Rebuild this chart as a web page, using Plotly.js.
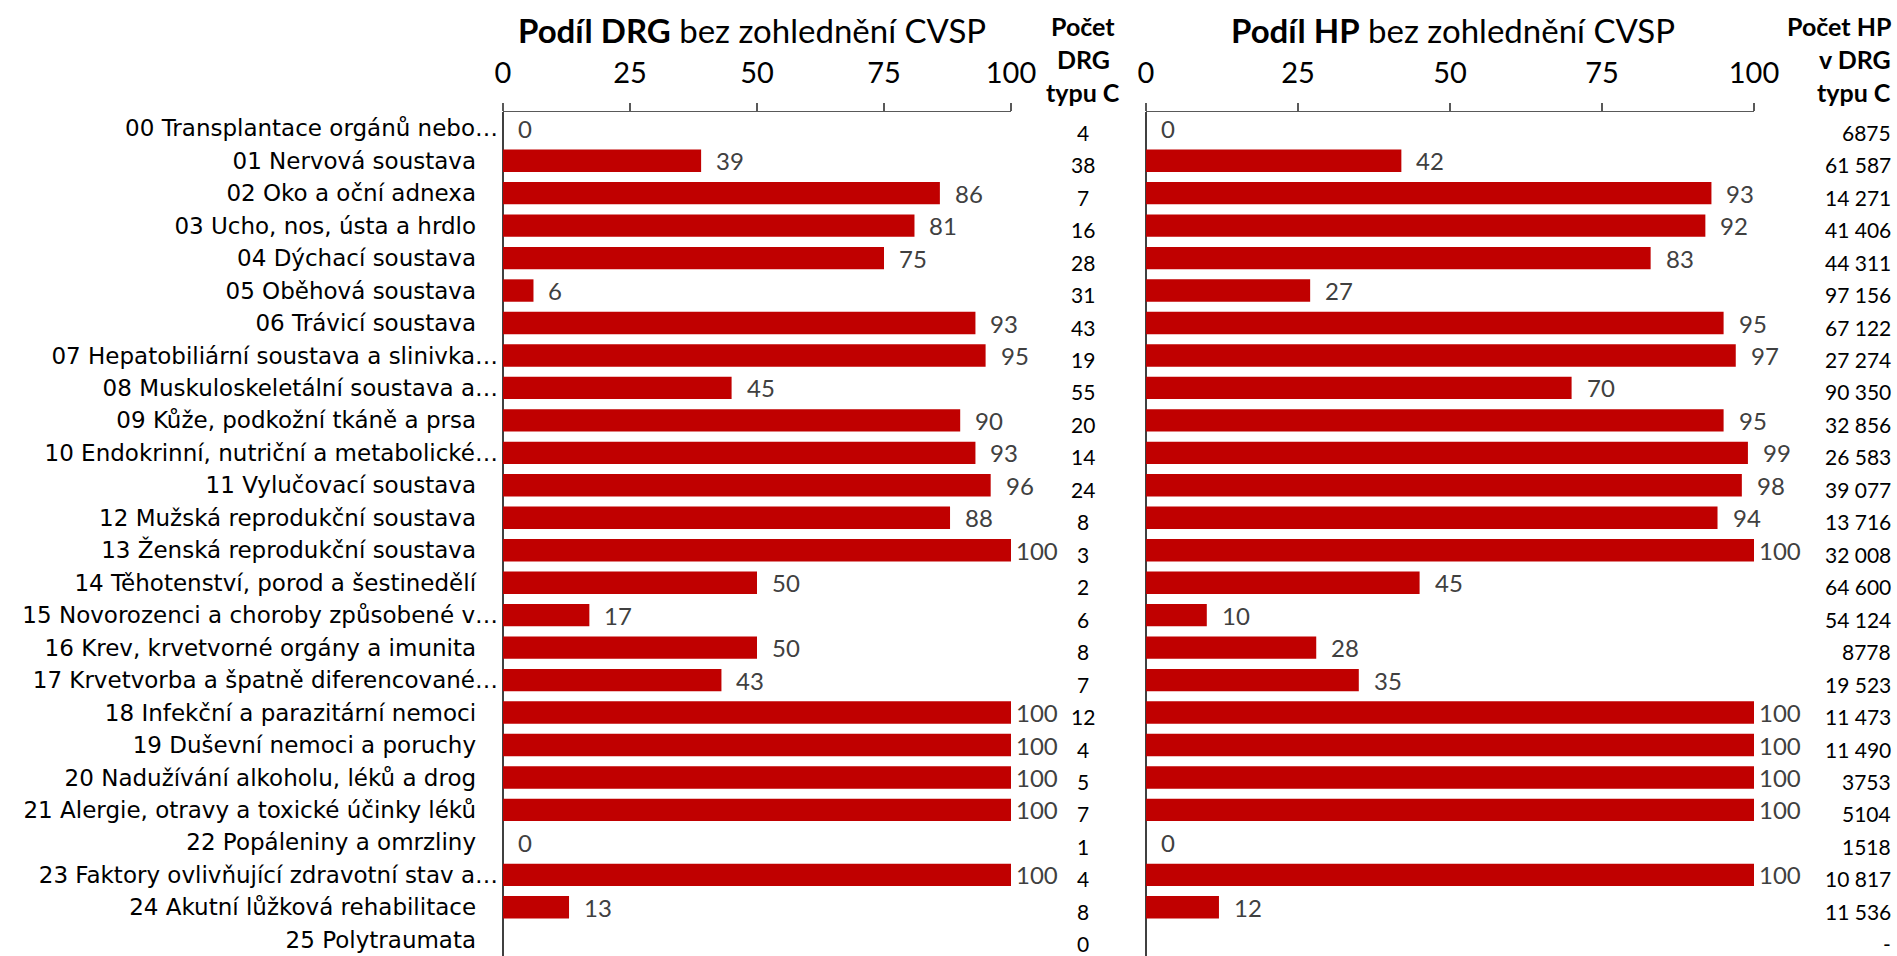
<!DOCTYPE html>
<html>
<head>
<meta charset="utf-8">
<script src="https://cdn.plot.ly/plotly-3.0.1.min.js"></script>
<style>
  html, body { margin: 0; padding: 0; background: #fff; }
  #chart { width: 1897px; height: 956px; }
</style>
</head>
<body>
<div id="chart"></div>
<script>
const categories = [
  "00 Transplantace orgánů nebo…",
  "01 Nervová soustava",
  "02 Oko a oční adnexa",
  "03 Ucho, nos, ústa a hrdlo",
  "04 Dýchací soustava",
  "05 Oběhová soustava",
  "06 Trávicí soustava",
  "07 Hepatobiliární soustava a slinivka…",
  "08 Muskuloskeletální soustava a…",
  "09 Kůže, podkožní tkáně a prsa",
  "10 Endokrinní, nutriční a metabolické…",
  "11 Vylučovací soustava",
  "12 Mužská reprodukční soustava",
  "13 Ženská reprodukční soustava",
  "14 Těhotenství, porod a šestinedělí",
  "15 Novorozenci a choroby způsobené v…",
  "16 Krev, krvetvorné orgány a imunita",
  "17 Krvetvorba a špatně diferencované…",
  "18 Infekční a parazitární nemoci",
  "19 Duševní nemoci a poruchy",
  "20 Nadužívání alkoholu, léků a drog",
  "21 Alergie, otravy a toxické účinky léků",
  "22 Popáleniny a omrzliny",
  "23 Faktory ovlivňující zdravotní stav a…",
  "24 Akutní lůžková rehabilitace",
  "25 Polytraumata"
];
const drgShare = [0, 39, 86, 81, 75, 6, 93, 95, 45, 90, 93, 96, 88, 100, 50, 17, 50, 43, 100, 100, 100, 100, 0, 100, 13, null];
const hpShare  = [0, 42, 93, 92, 83, 27, 95, 97, 70, 95, 99, 98, 94, 100, 45, 10, 28, 35, 100, 100, 100, 100, 0, 100, 12, null];
const drgCount = ["4", "38", "7", "16", "28", "31", "43", "19", "55", "20", "14", "24", "8", "3", "2", "6", "8", "7", "12", "4", "5", "7", "1", "4", "8", "0"];
const hpCount  = ["6875", "61 587", "14 271", "41 406", "44 311", "97 156", "67 122", "27 274", "90 350", "32 856", "26 583", "39 077", "13 716", "32 008", "64 600", "54 124", "8778", "19 523", "11 473", "11 490", "3753", "5104", "1518", "10 817", "11 536", "-"];
const ticks = [0, 25, 50, 75, 100];
const leftTitle = "<b>Podíl DRG</b> bez zohlednění CVSP";
const rightTitle = "<b>Podíl HP</b> bez zohlednění CVSP";
const leftHeader = ["Počet", "DRG", "typu C"];
const rightHeader = ["Počet HP", "v DRG", "typu C"];

const BAR = "#C00000";
const W = 1897, H = 956;
const L = 503, R = 1754, T = 112;
const PW = R - L, PH = H - T;
const px = v => (v - L) / PW;
const py = v => (H - v) / PH;

const tickText = categories.map(c => c.endsWith("…") ? c : c + "\u00A0\u00A0\u00A0");

const traces = [
  { type: "bar", orientation: "h", x: drgShare, y: categories, xaxis: "x", yaxis: "y",
    marker: { color: BAR }, hoverinfo: "x+y" },
  { type: "bar", orientation: "h", x: hpShare, y: categories, xaxis: "x2", yaxis: "y",
    marker: { color: BAR }, hoverinfo: "x+y" }
];

const annotations = [];
function addLabels(vals, xref) {
  vals.forEach((v, i) => {
    if (v === null) return;
    annotations.push({ x: v, y: categories[i], xref: xref, yref: "y", text: String(v),
      showarrow: false, xanchor: "left", yanchor: "middle", xshift: v >= 100 ? 3 : 13,
      font: { family: "Lato", size: 24, color: "#404040" } });
  });
}
addLabels(drgShare, "x");
addLabels(hpShare, "x2");

drgCount.forEach((t, i) => annotations.push({ x: px(1083), y: categories[i], xref: "paper", yref: "y",
  text: t, showarrow: false, xanchor: "center", yanchor: "middle", yshift: -4,
  font: { family: "Lato", size: 21, color: "#000" } }));
hpCount.forEach((t, i) => annotations.push({ x: px(1893), y: categories[i], xref: "paper", yref: "y",
  text: t, showarrow: false, xanchor: "right", yanchor: "middle", yshift: -4,
  font: { family: "Lato", size: 21, color: "#000" } }));

const headerY = [26, 59, 92];
leftHeader.forEach((t, i) => annotations.push({ x: px(1083), y: py(headerY[i]), xref: "paper", yref: "paper",
  text: "<b>" + t + "</b>", showarrow: false, xanchor: "center", yanchor: "middle",
  font: { family: "Lato", size: 25, color: "#000" } }));
rightHeader.forEach((t, i) => annotations.push({ x: px(1893), y: py(headerY[i]), xref: "paper", yref: "paper",
  text: "<b>" + t + "</b>", showarrow: false, xanchor: "right", yanchor: "middle",
  font: { family: "Lato", size: 25, color: "#000" } }));

annotations.push({ x: px(752), y: py(30), xref: "paper", yref: "paper", text: leftTitle,
  showarrow: false, xanchor: "center", yanchor: "middle",
  font: { family: "Lato", size: 33, color: "#000" } });
annotations.push({ x: px(1453), y: py(30), xref: "paper", yref: "paper", text: rightTitle,
  showarrow: false, xanchor: "center", yanchor: "middle",
  font: { family: "Lato", size: 33, color: "#000" } });

function xAxis(domain) {
  return {
    domain: domain, range: [0, 100], side: "top", anchor: "y",
    tickvals: ticks, ticktext: ticks.map(String), ticks: "outside", ticklen: 8, tickwidth: 1.5,
    tickcolor: "#595959", showline: true, linecolor: "#595959", linewidth: 1.5,
    showgrid: false, zeroline: true, zerolinecolor: "#404040", zerolinewidth: 2,
    tickfont: { family: "Lato", size: 29, color: "#000" }, ticklabelstandoff: 8,
    fixedrange: true
  };
}

const layout = {
  width: W, height: H,
  margin: { l: L, r: W - R, t: T, b: 0, pad: 0 },
  paper_bgcolor: "#fff", plot_bgcolor: "#fff",
  showlegend: false, bargap: 0.31,
  xaxis: xAxis([0, px(1011)]),
  xaxis2: xAxis([px(1146), 1]),
  yaxis: {
    type: "category", categoryorder: "array", categoryarray: categories,
    range: [25.5, -0.5], tickvals: categories, ticktext: tickText,
    showline: false, showgrid: false, zeroline: false, ticks: "",
    tickfont: { family: "DejaVu Sans", size: 23, color: "#000" },
    ticklabelstandoff: 4, fixedrange: true
  },
  annotations: annotations
};

Plotly.newPlot("chart", traces, layout, { displayModeBar: false, staticPlot: true });
</script>
</body>
</html>
